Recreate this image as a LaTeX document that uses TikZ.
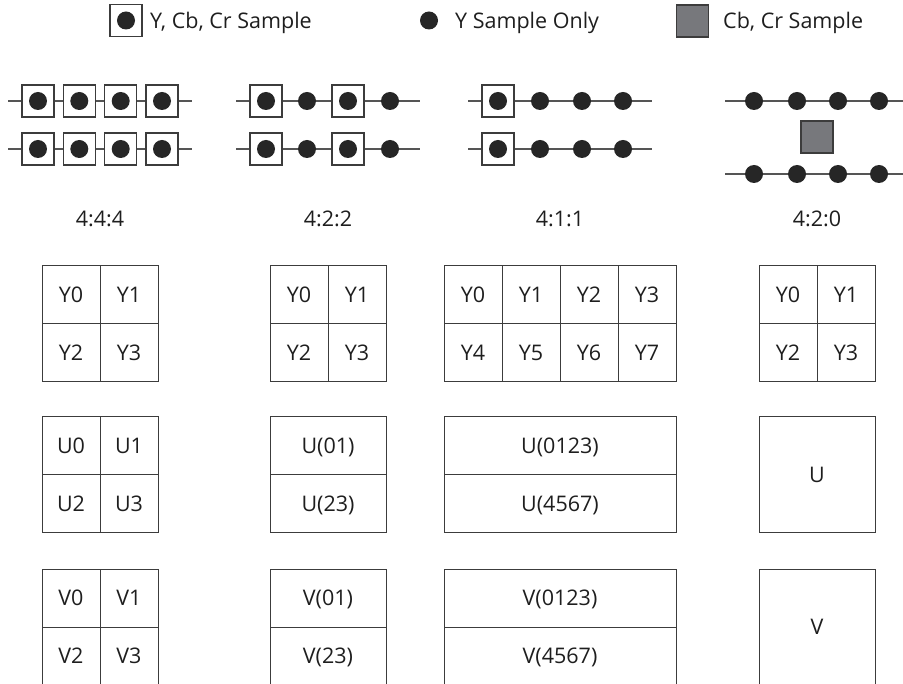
\documentclass[tikz,border=0pt]{standalone}
\usepackage{fontspec}
\setmainfont{Open Sans}
\definecolor{linegray}{RGB}{85,85,85}
\definecolor{dotblack}{RGB}{38,38,38}
\definecolor{boxgray}{RGB}{119,120,124}
\definecolor{edge}{RGB}{60,60,60}
\definecolor{txt}{RGB}{30,30,30}
\begin{document}
\begin{tikzpicture}[x=1pt,y=-1pt,
  every node/.style={font=\fontsize{21.5}{25}\selectfont, text=txt},
  samplebox/.style={draw=edge, fill=white, line width=1.1pt, minimum size=32pt, inner sep=0pt},
  ydot/.style={circle, fill=dotblack, minimum size=18pt, inner sep=0pt},
  cbbox/.style={draw=edge, fill=boxgray, line width=1.1pt, minimum size=32pt, inner sep=0pt},
  sline/.style={draw=linegray, line width=1.3pt},
  cell/.style={draw=edge, line width=1pt, inner sep=0pt, text height=15pt, text depth=0pt,
               minimum height=58pt, minimum width=58pt},
  widecell/.style={cell, minimum width=116pt},
  widercell/.style={cell, minimum width=232pt},
  bigcell/.style={cell, minimum width=116pt, minimum height=116pt},
  lbl/.style={anchor=base},
  legtext/.style={anchor=base west, inner sep=0pt}
]
\useasboundingbox (0,0) rectangle (903,684);

% ---------- legend ----------
\node[samplebox] (legbox) at (126,20.5) {};
\node[ydot] (legboxdot) at (legbox) {};
\node[legtext] (legt1) at (150,29) {Y, Cb, Cr Sample};
\node[ydot] (legdot) at (429,20.5) {};
\node[legtext] (legt2) at (455,29) {Y Sample Only};
\node[cbbox] (leggray) at (692.5,21) {};
\node[legtext] (legt3) at (723,29) {Cb, Cr Sample};

% ---------- 4:4:4 samples ----------
\foreach \r/\y in {1/101, 2/149} {
  \coordinate (L444\r) at (8,\y);
  \coordinate (R444\r) at (192,\y);
  \draw[sline] (L444\r) -- (R444\r);
  \foreach \i/\x in {1/38, 2/79.3, 3/120.7, 4/162} {
    \node[samplebox] (b444\r\i) at (\x,\y) {};
    \node[ydot] (d444\r\i) at (b444\r\i) {};
  }
}

% ---------- 4:2:2 samples ----------
\foreach \r/\y in {1/101, 2/149} {
  \coordinate (L422\r) at (236,\y);
  \coordinate (R422\r) at (420,\y);
  \draw[sline] (L422\r) -- (R422\r);
  \foreach \i/\x in {1/266, 3/348} {
    \node[samplebox] (b422\r\i) at (\x,\y) {};
    \node[ydot] (d422\r\i) at (b422\r\i) {};
  }
  \foreach \i/\x in {2/307, 4/390} {
    \node[ydot] (d422\r\i) at (\x,\y) {};
  }
}

% ---------- 4:1:1 samples ----------
\foreach \r/\y in {1/101, 2/149} {
  \coordinate (L411\r) at (468,\y);
  \coordinate (R411\r) at (652,\y);
  \draw[sline] (L411\r) -- (R411\r);
  \node[samplebox] (b411\r1) at (498,\y) {};
  \node[ydot] (d411\r1) at (b411\r1) {};
  \foreach \i/\x in {2/540, 3/582, 4/623} {
    \node[ydot] (d411\r\i) at (\x,\y) {};
  }
}

% ---------- 4:2:0 samples ----------
\foreach \r/\y in {1/101, 2/174} {
  \coordinate (L420\r) at (725,\y);
  \coordinate (R420\r) at (909,\y);
  \draw[sline] (L420\r) -- (R420\r);
  \foreach \i/\x in {1/754, 2/797, 3/838, 4/879} {
    \node[ydot] (d420\r\i) at (\x,\y) {};
  }
}
\node[cbbox] (g420) at (817,137) {};

% ---------- labels ----------
\node[lbl] (lab444) at (100,227) {4:4:4};
\node[lbl] (lab422) at (328,227) {4:2:2};
\node[lbl] (lab411) at (560,227) {4:1:1};
\node[lbl] (lab420) at (817,227) {4:2:0};

% ---------- 4:4:4 grids ----------
\node[cell] (y444a) at (71,295)  {Y0};
\node[cell] (y444b) at (129,295) {Y1};
\node[cell] (y444c) at (71,353)  {Y2};
\node[cell] (y444d) at (129,353) {Y3};
\node[cell] (u444a) at (71,446)  {U0};
\node[cell] (u444b) at (129,446) {U1};
\node[cell] (u444c) at (71,504)  {U2};
\node[cell] (u444d) at (129,504) {U3};
\node[cell] (v444a) at (71,598)  {V0};
\node[cell] (v444b) at (129,598) {V1};
\node[cell] (v444c) at (71,656)  {V2};
\node[cell] (v444d) at (129,656) {V3};

% ---------- 4:2:2 grids ----------
\node[cell] (y422a) at (299,295) {Y0};
\node[cell] (y422b) at (357,295) {Y1};
\node[cell] (y422c) at (299,353) {Y2};
\node[cell] (y422d) at (357,353) {Y3};
\node[widecell] (u422a) at (328,446) {U(01)};
\node[widecell] (u422b) at (328,504) {U(23)};
\node[widecell] (v422a) at (328,598) {V(01)};
\node[widecell] (v422b) at (328,656) {V(23)};

% ---------- 4:1:1 grids ----------
\node[cell] (y411a) at (473,295) {Y0};
\node[cell] (y411b) at (531,295) {Y1};
\node[cell] (y411c) at (589,295) {Y2};
\node[cell] (y411d) at (647,295) {Y3};
\node[cell] (y411e) at (473,353) {Y4};
\node[cell] (y411f) at (531,353) {Y5};
\node[cell] (y411g) at (589,353) {Y6};
\node[cell] (y411h) at (647,353) {Y7};
\node[widercell] (u411a) at (560,446) {U(0123)};
\node[widercell] (u411b) at (560,504) {U(4567)};
\node[widercell] (v411a) at (560,598) {V(0123)};
\node[widercell] (v411b) at (560,656) {V(4567)};

% ---------- 4:2:0 grids ----------
\node[cell] (y420a) at (788,295) {Y0};
\node[cell] (y420b) at (846,295) {Y1};
\node[cell] (y420c) at (788,353) {Y2};
\node[cell] (y420d) at (846,353) {Y3};
\node[bigcell] (u420) at (817,475) {U};
\node[bigcell] (v420) at (817,627) {V};
\end{tikzpicture}
\end{document}
